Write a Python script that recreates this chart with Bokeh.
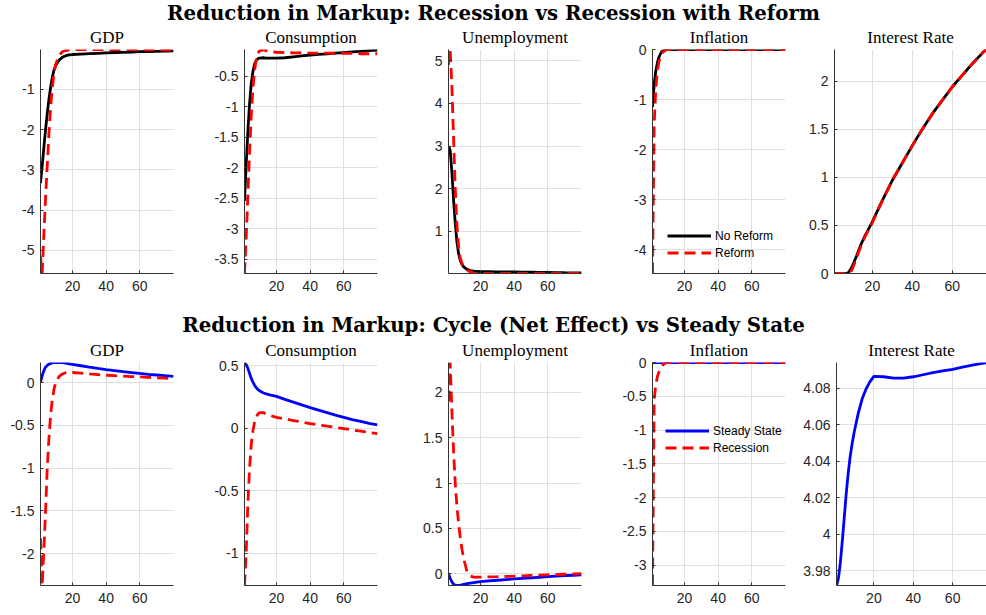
from bokeh.plotting import figure
from bokeh.layouts import column, row
from bokeh.models import Range1d, FixedTicker, NumeralTickFormatter, Legend, LegendItem
from bokeh.embed import file_html
from bokeh.resources import INLINE
from bokeh.core.validation import silence
from bokeh.core.validation.warnings import MISSING_RENDERERS

silence(MISSING_RENDERERS, True)

# ---------------- data ----------------
periods = [1, 2, 3, 4, 5, 6, 7, 8, 9, 10, 12, 14, 16, 18, 20, 25, 30, 35, 40, 45, 50, 55, 60, 65, 70, 75, 80]

title_top = "Reduction in Markup: Recession vs Recession with Reform"
title_bottom = "Reduction in Markup: Cycle (Net Effect) vs Steady State"
panel_titles = ["GDP", "Consumption", "Unemployment", "Inflation", "Interest Rate"]
legend_top = ["No Reform", "Reform"]
legend_bottom = ["Steady State", "Recession"]
x_ticks = [20, 40, 60]

# Row 1: recession without reform (black) vs with reform (red dashed)
r1_gdp_noreform = [-3.33, -2.9, -2.45, -2.0, -1.6, -1.25, -0.95, -0.7, -0.52, -0.4, -0.27, -0.2, -0.16, -0.14, -0.13,
                   -0.12, -0.11, -0.1, -0.09, -0.08, -0.075, -0.07, -0.06, -0.055, -0.05, -0.045, -0.04]
r1_gdp_reform = [-5.15, -5.58, -4.6, -3.7, -2.9, -2.1, -1.45, -0.95, -0.6, -0.38, -0.15, -0.06, -0.03, -0.015, -0.01,
                 -0.01, -0.01, -0.01, -0.01, -0.01, -0.01, -0.01, -0.012, -0.012, -0.014, -0.014, -0.015]
r1_cons_noreform = [-2.54, -1.95, -1.4, -0.95, -0.62, -0.42, -0.3, -0.24, -0.21, -0.2, -0.195, -0.2, -0.2, -0.2, -0.2,
                    -0.195, -0.18, -0.165, -0.15, -0.14, -0.13, -0.12, -0.11, -0.1, -0.09, -0.08, -0.07]
r1_cons_reform = [-3.73, -3.15, -2.45, -1.75, -1.15, -0.7, -0.4, -0.22, -0.12, -0.08, -0.065, -0.08, -0.095, -0.1, -0.105,
                  -0.11, -0.115, -0.115, -0.12, -0.12, -0.12, -0.12, -0.125, -0.125, -0.13, -0.13, -0.13]
r1_unemp_noreform = [3.0, 2.9, 2.4, 1.75, 1.2, 0.75, 0.48, 0.32, 0.23, 0.17, 0.11, 0.085, 0.07, 0.065, 0.06,
                     0.058, 0.055, 0.052, 0.05, 0.047, 0.044, 0.041, 0.038, 0.035, 0.032, 0.03, 0.028]
r1_unemp_reform = [4.9, 5.26, 4.4, 3.2, 2.0, 1.15, 0.65, 0.38, 0.25, 0.18, 0.1, 0.05, 0.025, 0.018, 0.015,
                   0.015, 0.015, 0.015, 0.015, 0.015, 0.015, 0.015, 0.015, 0.015, 0.015, 0.015, 0.015]
r1_infl_noreform = [-1.15, -0.7, -0.42, -0.25, -0.14, -0.07, -0.03, -0.01, 0.0, 0.0, 0.0, 0.0, 0.0, 0.0, 0.0,
                    0.0, 0.0, 0.0, 0.0, 0.0, 0.0, 0.0, 0.0, 0.0, 0.0, 0.0, 0.0]
r1_infl_reform = [-4.48, -1.5, -0.75, -0.4, -0.22, -0.12, -0.06, -0.03, -0.01, 0.0, 0.0, 0.0, 0.0, 0.0, 0.0,
                  0.0, 0.0, 0.0, 0.0, 0.0, 0.0, 0.0, 0.0, 0.0, 0.0, 0.0, 0.0]
r1_rate_noreform = [0.0, 0.0, 0.0, 0.0, 0.0, 0.0, 0.0, 0.01, 0.04, 0.08, 0.18, 0.29, 0.38, 0.46, 0.54,
                    0.76, 0.97, 1.15, 1.33, 1.5, 1.66, 1.8, 1.94, 2.06, 2.18, 2.29, 2.39]
r1_rate_reform = [0.0, 0.0, 0.0, 0.0, 0.0, 0.0, 0.0, 0.0, 0.01, 0.05, 0.16, 0.27, 0.37, 0.45, 0.53,
                  0.76, 0.97, 1.15, 1.33, 1.5, 1.66, 1.8, 1.94, 2.06, 2.18, 2.29, 2.39]

# Row 2: steady state (blue) vs recession (red dashed)
r2_gdp_ss = [0.0, 0.08, 0.14, 0.18, 0.2, 0.215, 0.224, 0.229, 0.232, 0.234, 0.234, 0.232, 0.226, 0.219, 0.212,
             0.196, 0.18, 0.165, 0.152, 0.14, 0.128, 0.117, 0.106, 0.096, 0.088, 0.08, 0.073]
r2_gdp_rec = [-1.82, -2.37, -1.95, -1.5, -1.0, -0.65, -0.38, -0.2, -0.08, 0.0, 0.07, 0.1, 0.115, 0.118, 0.117,
              0.11, 0.1, 0.093, 0.085, 0.08, 0.075, 0.07, 0.066, 0.06, 0.056, 0.051, 0.047]
r2_cons_ss = [0.52, 0.51, 0.48, 0.44, 0.4, 0.37, 0.345, 0.325, 0.31, 0.3, 0.285, 0.275, 0.268, 0.262, 0.255,
              0.232, 0.21, 0.187, 0.165, 0.145, 0.125, 0.105, 0.088, 0.07, 0.055, 0.04, 0.027]
r2_cons_rec = [-1.26, -1.0, -0.6, -0.32, -0.13, -0.02, 0.05, 0.09, 0.115, 0.125, 0.125, 0.115, 0.105, 0.095, 0.088,
               0.075, 0.062, 0.05, 0.037, 0.027, 0.017, 0.007, -0.003, -0.013, -0.023, -0.033, -0.043]
r2_unemp_ss = [0.0, -0.05, -0.09, -0.115, -0.127, -0.13, -0.13, -0.127, -0.122, -0.118, -0.11, -0.104, -0.098, -0.092, -0.088,
               -0.08, -0.072, -0.065, -0.058, -0.051, -0.045, -0.039, -0.033, -0.027, -0.022, -0.017, -0.012]
r2_unemp_rec = [1.9, 2.33, 1.8, 1.35, 1.0, 0.75, 0.55, 0.4, 0.27, 0.17, 0.02, -0.025, -0.037, -0.038, -0.037,
                -0.035, -0.033, -0.03, -0.027, -0.023, -0.019, -0.015, -0.012, -0.009, -0.006, -0.003, 0.0]
r2_infl_ss = [0.0, 0.0, 0.0, 0.0, 0.0, 0.0, 0.0, 0.0, 0.0, 0.0, 0.0, 0.0, 0.0, 0.0, 0.0,
              0.0, 0.0, 0.0, 0.0, 0.0, 0.0, 0.0, 0.0, 0.0, 0.0, 0.0, 0.0]
r2_infl_rec = [-3.3, -0.55, -0.32, -0.2, -0.13, -0.08, -0.04, -0.015, -0.005, 0.0, 0.0, 0.0, 0.0, 0.0, 0.0,
               0.0, 0.0, 0.0, 0.0, 0.0, 0.0, 0.0, 0.0, 0.0, 0.0, 0.0, 0.0]
r2_rate_ss = [3.972, 3.976, 3.985, 3.997, 4.01, 4.023, 4.034, 4.043, 4.05, 4.056, 4.066, 4.074, 4.0795, 4.0835, 4.0864,
              4.0862, 4.0855, 4.0854, 4.0862, 4.0873, 4.0884, 4.0894, 4.0903, 4.0915, 4.0925, 4.0935, 4.0945]

# axis limits and ticks per panel
r1_ylims = [(-5.58, -0.005), (-3.73, -0.06), (0.015, 5.26), (-4.48, 0.0), (0.0, 2.33)]
r2_ylims = [(-2.37, 0.234), (-1.26, 0.527), (-0.13, 2.33), (-3.3, 0.0), (3.972, 4.094)]
r1_yticks = [[-5, -4, -3, -2, -1], [-3.5, -3, -2.5, -2, -1.5, -1, -0.5], [1, 2, 3, 4, 5],
             [-4, -3, -2, -1, 0], [0, 0.5, 1, 1.5, 2]]
r2_yticks = [[-2, -1.5, -1, -0.5, 0], [-1, -0.5, 0, 0.5], [0, 0.5, 1, 1.5, 2],
             [-3, -2.5, -2, -1.5, -1, -0.5, 0], [3.98, 4.0, 4.02, 4.04, 4.06, 4.08]]
x_ends = [80, 80, 80, 80, 77.2]

# ---------------- layout geometry ----------------
fig_widths = [200, 205, 205, 190, 186]
border_left = [40, 44, 43, 42, 34]
border_right = [27, 28, 29, 15, 0]

AX = "#333333"
GRID = "#e0e0e0"
LW = 2.8


def title_fig(text):
    t = figure(width=986, height=24, toolbar_location=None, output_backend="svg",
               x_range=(0, 1), y_range=(0, 1), min_border=0)
    t.title.text = text
    t.title.align = "center"
    t.title.text_font = "DejaVu Serif"
    t.title.text_font_style = "bold"
    t.title.text_font_size = "19.8px"
    t.title.text_color = "black"
    t.title.standoff = 0
    t.axis.visible = False
    t.grid.visible = False
    t.outline_line_color = None
    return t


def panel(i, height, top, bottom, ylim, yticks, series, legend_labels=None, legend_loc=None):
    p = figure(width=fig_widths[i], height=height, toolbar_location=None, output_backend="svg",
               x_range=Range1d(1, x_ends[i]), y_range=Range1d(*ylim),
               min_border_left=border_left[i], min_border_right=border_right[i],
               min_border_top=top, min_border_bottom=bottom)
    p.title.text = panel_titles[i]
    p.title.align = "center"
    p.title.vertical_align = "middle"
    p.title.text_font = "Liberation Serif"
    p.title.text_font_style = "normal"
    p.title.text_font_size = "17px"
    p.title.text_color = "black"
    p.title.standoff = 4
    p.outline_line_color = None
    p.xaxis.ticker = FixedTicker(ticks=x_ticks)
    p.yaxis.ticker = FixedTicker(ticks=yticks)
    p.yaxis.formatter = NumeralTickFormatter(format="0.[00]")
    for ax in (p.xaxis[0], p.yaxis[0]):
        ax.axis_line_color = AX
        ax.axis_line_width = 1
        ax.major_tick_line_color = AX
        ax.major_tick_in = 3
        ax.major_tick_out = 0
        ax.minor_tick_line_color = None
        ax.major_label_text_font = "Liberation Sans"
        ax.major_label_text_font_size = "14px"
        ax.major_label_text_color = "#262626"
    p.xaxis.major_label_standoff = 7
    p.yaxis.major_label_standoff = 6
    p.xgrid.grid_line_color = GRID
    p.ygrid.grid_line_color = GRID
    rends = []
    for ys, color, dash in series:
        r = p.line(periods, ys, line_color=color, line_width=LW, line_dash=dash)
        rends.append(r)
    if legend_labels:
        leg = Legend(items=[LegendItem(label=lab, renderers=[r]) for lab, r in zip(legend_labels, rends)],
                     location=legend_loc, border_line_color=None, background_fill_alpha=0,
                     padding=0, margin=0, spacing=0, glyph_width=44, glyph_height=17,
                     label_height=17, label_standoff=4, label_text_font="Liberation Sans",
                     label_text_font_size="12px", label_text_color="black")
        p.add_layout(leg)
    return p


DASH = "11 6"
r1_series = [
    [(r1_gdp_noreform, "black", "solid"), (r1_gdp_reform, "red", DASH)],
    [(r1_cons_noreform, "black", "solid"), (r1_cons_reform, "red", DASH)],
    [(r1_unemp_noreform, "black", "solid"), (r1_unemp_reform, "red", DASH)],
    [(r1_infl_noreform, "black", "solid"), (r1_infl_reform, "red", DASH)],
    [(r1_rate_noreform, "black", "solid"), (r1_rate_reform, "red", DASH)],
]
r2_series = [
    [(r2_gdp_ss, "blue", "solid"), (r2_gdp_rec, "red", DASH)],
    [(r2_cons_ss, "blue", "solid"), (r2_cons_rec, "red", DASH)],
    [(r2_unemp_ss, "blue", "solid"), (r2_unemp_rec, "red", DASH)],
    [(r2_infl_ss, "blue", "solid"), (r2_infl_rec, "red", DASH)],
    [(r2_rate_ss, "blue", "solid")],
]

row1 = []
row2 = []
for i in range(5):
    row1.append(panel(i, 288, 25, 39, r1_ylims[i], r1_yticks[i], r1_series[i],
                      legend_top if i == 3 else None, (15, 12)))
    row2.append(panel(i, 279, 26, 30, r2_ylims[i], r2_yticks[i], r2_series[i],
                      legend_bottom if i == 3 else None, (13, 129)))

layout = column(title_fig(title_top), row(*row1), title_fig(title_bottom), row(*row2), spacing=0)

open("out.html", "w").write(file_html(layout, INLINE))
